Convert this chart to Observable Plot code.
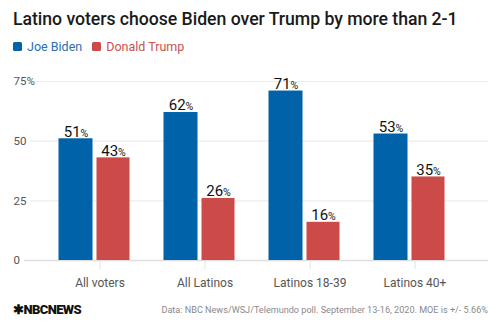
<!DOCTYPE html>
<html><head><meta charset="utf-8">
<script src="https://cdn.jsdelivr.net/npm/d3@7"></script>
<script src="https://cdn.jsdelivr.net/npm/@observablehq/plot@0.6"></script>
<style>
body{margin:0;background:#fff;font-family:Roboto,"Noto Sans",sans-serif;width:500px;height:333px;overflow:hidden;position:relative}
#title{position:absolute;left:13px;top:9px;font-size:17.7px;color:#1a1a1a;font-weight:500;letter-spacing:-0.05px;white-space:nowrap}
#legend{position:absolute;left:13px;top:39px;font-size:12.5px;white-space:nowrap}
#legend span.sw{display:inline-block;width:9px;height:9px;border-radius:1.5px;margin-right:5px;vertical-align:-0px}
#legend span.item{margin-right:10px}
#chart{position:absolute;left:0;top:62px}
#logo{position:absolute;left:13px;top:302px;font-size:13px;font-weight:900;color:#111;letter-spacing:-0.6px}
#source{position:absolute;right:12px;top:305px;font-size:9.1px;color:#8a8a8a;white-space:nowrap}
</style></head><body>
<div id="title">Latino voters choose Biden over Trump by more than 2-1</div>
<div id="legend"></div>
<div id="chart"></div>
<div id="logo">✱NBCNEWS</div>
<div id="source">Data: NBC News/WSJ/Telemundo poll. September 13-16, 2020. MOE is +/- 5.66%</div>
<script>
const categories = ["All voters", "All Latinos", "Latinos 18-39", "Latinos 40+"];
const biden = [51, 62, 71, 53];
const trump = [43, 26, 16, 35];
const seriesNames = ["Joe Biden", "Donald Trump"];
const seriesColors = ["#0062a8", "#cc4a48"];
const legendTextColors = ["#2c6fb3", "#c9514f"];
const yTicks = [0, 25, 50, 75];

const lg = document.getElementById("legend");
seriesNames.forEach((n, i) => {
  lg.insertAdjacentHTML("beforeend",
    `<span class="item"><span class="sw" style="background:${seriesColors[i]}"></span><span style="color:${legendTextColors[i]}">${n}</span></span>`);
});

const dB = categories.map((c, i) => ({cat: c, v: biden[i]}));
const dT = categories.map((c, i) => ({cat: c, v: trump[i]}));

const bInL = 11.5, bInR = 59.5, tInL = 49.5, tInR = 22.5;
const bandW = 105;
const bCenter = (bInL + (bandW - bInR)) / 2 - bandW / 2;
const tCenter = (tInL + (bandW - tInR)) / 2 - bandW / 2;

const svg = Plot.plot({
  width: 500,
  height: 238,
  marginTop: 19,
  marginBottom: 40,
  marginLeft: 24,
  marginRight: 12,
  style: {fontFamily: "Roboto, 'Noto Sans', sans-serif", background: "transparent"},
  x: {type: "band", domain: categories, range: [46.5, 466.5], padding: 0, label: null},
  y: {domain: [0, 75], label: null, axis: null},
  marks: [
    Plot.ruleY(yTicks.filter(d => d > 0), {stroke: "#ececec", strokeWidth: 1.2, insetLeft: 6}),
    Plot.ruleY([0], {stroke: "#dedede", strokeWidth: 1.5}),
    Plot.text(yTicks, {y: d => d, text: d => d === 75 ? "75%" : String(d), frameAnchor: "left", textAnchor: "start", dx: -11, fill: "#555", fontSize: 11.5}),
    Plot.barY(dB, {x: "cat", y: "v", fill: seriesColors[0], insetLeft: bInL, insetRight: bInR}),
    Plot.barY(dT, {x: "cat", y: "v", fill: seriesColors[1], insetLeft: tInL, insetRight: tInR}),
    Plot.text(dB, {x: "cat", y: "v", text: d => String(d.v), dx: bCenter, dy: -7, fontSize: 15, fill: "#111", className: "val"}),
    Plot.text(dT, {x: "cat", y: "v", text: d => String(d.v), dx: tCenter, dy: -7, fontSize: 15, fill: "#111", className: "val"}),
    Plot.axisX({tickSize: 9, tickPadding: 9, stroke: "#e2e2e2", fill: "#555", fontSize: 12, tickFormat: d => d})
  ]
});
d3.select(svg).selectAll(".val text").each(function() {
  const t = this.textContent;
  this.textContent = "";
  const s = d3.select(this);
  s.append("tspan").text(t);
  s.append("tspan").attr("font-size", 10.5).text("%");
});
document.getElementById("chart").appendChild(svg);
</script>
</body></html>
